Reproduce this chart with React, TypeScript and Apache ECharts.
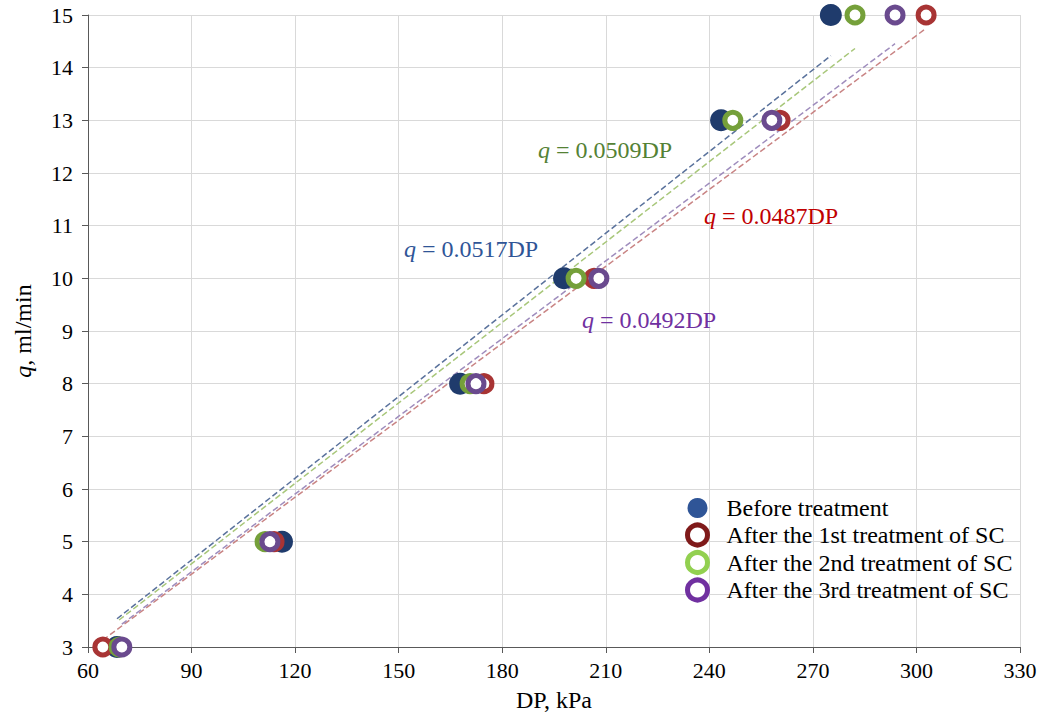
import React, { useEffect, useRef } from "react";
import * as echarts from "echarts";

const qLevels = [3, 5, 8, 10, 13, 15];
const dpBefore = [68.4, 116.2, 167.8, 197.9, 243.4, 275.2];
const dpFirst = [64.3, 113.9, 174.7, 206.6, 260.5, 302.8];
const dpSecond = [69.0, 111.3, 170.7, 201.4, 246.8, 282.2];
const dpThird = [69.8, 112.7, 172.4, 208.0, 258.1, 293.8];

const seriesNames = [
  "Before treatment",
  "After the 1st treatment of SC",
  "After the 2nd treatment of SC",
  "After the 3rd treatment of SC",
];
const slopes = [0.0517, 0.0487, 0.0509, 0.0492];
const slopeLabels = ["q = 0.0517DP", "q = 0.0487DP", "q = 0.0509DP", "q = 0.0492DP"];

const FONT = "'Liberation Serif', 'Times New Roman', serif";

export default function App() {
  const ref = useRef<HTMLDivElement>(null);
  useEffect(() => {
    if (!ref.current) return;
    const chart = echarts.init(ref.current, undefined, { renderer: "svg" });
    const allDp = [dpBefore, dpFirst, dpSecond, dpThird];
    const pointColors = ["#1F3B6C", "#A83434", "#75A03A", "#6A4A8E"];
    const legendColors = ["#2F5597", "#7F1A1A", "#92D050", "#7030A0"];
    const lineColors = ["#5A729C", "#C98484", "#A8C77A", "#9F8DBD"];
    const textColors = ["#2F5597", "#C00000", "#548235", "#7030A0"];

    const scatterSeries = allDp.map((dp, i) => ({
      name: seriesNames[i],
      type: "scatter",
      z: 3,
      symbol: "circle",
      symbolSize: i === 0 ? 22 : 16,
      itemStyle:
        i === 0
          ? { color: pointColors[i], opacity: 1 }
          : { color: "#ffffff", borderColor: pointColors[i], borderWidth: 5, opacity: 1 },
      data: dp.map((x, j) => [x, qLevels[j]]),
    }));

    const lineSeries = allDp.map((dp, i) => {
      const lo = Math.min(...dp);
      const hi = Math.max(...dp);
      return {
        name: "fit" + i,
        type: "line",
        z: 2,
        symbol: "none",
        silent: true,
        lineStyle: { color: lineColors[i], width: 1.5, type: [6, 3] },
        data: [
          [lo, slopes[i] * lo],
          [hi, slopes[i] * hi],
        ],
      };
    });

    const labelPos = [
      [404, 237],
      [704, 204],
      [538, 138],
      [582, 308],
    ];

    chart.setOption({
      animation: false,
      backgroundColor: "#ffffff",
      grid: { left: 88, right: 23, top: 15, bottom: 69 },
      xAxis: {
        type: "value",
        min: 60,
        max: 330,
        interval: 30,
        name: "DP, kPa",
        nameLocation: "middle",
        nameGap: 41,
        nameTextStyle: { fontFamily: FONT, fontSize: 24, color: "#000" },
        axisLine: { show: true, onZero: false, lineStyle: { color: "#595959", width: 1 } },
        axisTick: { show: true, length: 6, lineStyle: { color: "#595959" } },
        axisLabel: { fontFamily: FONT, fontSize: 22, color: "#000", margin: 12 },
        splitLine: { show: true, lineStyle: { color: "#D9D9D9", width: 1 } },
      },
      yAxis: {
        type: "value",
        min: 3,
        max: 15,
        interval: 1,
        name: "{i|q}, ml/min",
        nameLocation: "middle",
        nameGap: 53,
        nameTextStyle: {
          fontFamily: FONT,
          fontSize: 24,
          color: "#000",
          rich: { i: { fontFamily: FONT, fontSize: 24, fontStyle: "italic", color: "#000" } },
        },
        axisLine: { show: true, onZero: false, lineStyle: { color: "#595959", width: 1 } },
        axisTick: { show: true, length: 6, lineStyle: { color: "#595959" } },
        axisLabel: { fontFamily: FONT, fontSize: 22, color: "#000", margin: 15 },
        splitLine: { show: true, lineStyle: { color: "#D9D9D9", width: 1 } },
      },
      legend: {
        orient: "vertical",
        left: 680,
        top: 491,
        itemWidth: 20,
        itemHeight: 20,
        itemGap: 2.5,
        textStyle: { fontFamily: FONT, fontSize: 24, color: "#000", padding: [0, 0, 0, 14] },
        data: seriesNames.map((n, i) => ({
          name: n,
          icon: "circle",
          itemStyle:
            i === 0
              ? { color: legendColors[i], borderWidth: 0 }
              : { color: "#ffffff", borderColor: legendColors[i], borderWidth: 5 },
        })),
      },
      graphic: slopeLabels.map((t, i) => ({
        type: "text",
        left: labelPos[i][0],
        top: labelPos[i][1],
        z: 10,
        style: {
          text: "{i|q}" + t.slice(1),
          fontFamily: FONT,
          fontSize: 24,
          fill: textColors[i],
          rich: { i: { fontFamily: FONT, fontSize: 24, fontStyle: "italic", fill: textColors[i] } },
        },
      })),
      series: [...lineSeries, ...scatterSeries],
    });
    return () => chart.dispose();
  }, []);
  return <div ref={ref} style={{ width: 1043, height: 717, position: "absolute", left: 0, top: 0 }} />;
}
